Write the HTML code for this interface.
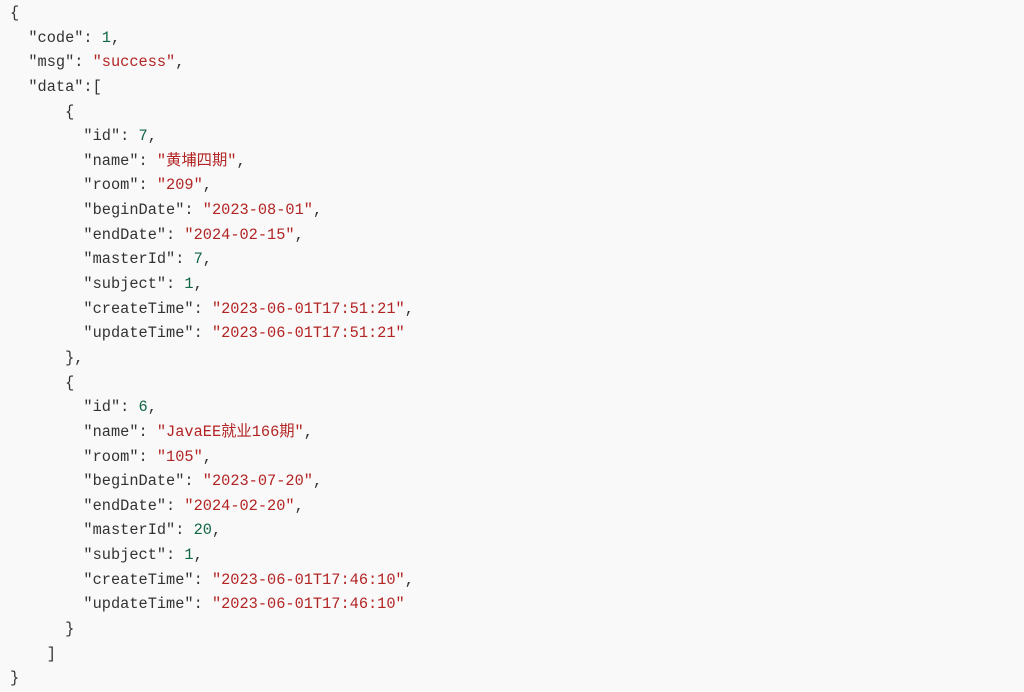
<!DOCTYPE html>
<html><head><meta charset="utf-8"><style>
html,body{margin:0;padding:0;background:#f9f9f9;}
body{width:1024px;height:692px;overflow:hidden;}
pre{margin:0;padding:1px 0 0 10px;font-family:"Liberation Mono","Noto Sans CJK SC",monospace;font-size:15.3px;line-height:24.64px;color:#333;}
.s{color:#b32424;}
.n{color:#116644;}
</style></head><body><pre>{
  "code": <span class="n">1</span>,
  "msg": <span class="s">"success"</span>,
  "data":[
      {
        "id": <span class="n">7</span>,
        "name": <span class="s">"黄埔四期"</span>,
        "room": <span class="s">"209"</span>,
        "beginDate": <span class="s">"2023-08-01"</span>,
        "endDate": <span class="s">"2024-02-15"</span>,
        "masterId": <span class="n">7</span>,
        "subject": <span class="n">1</span>,
        "createTime": <span class="s">"2023-06-01T17:51:21"</span>,
        "updateTime": <span class="s">"2023-06-01T17:51:21"</span>
      },
      {
        "id": <span class="n">6</span>,
        "name": <span class="s">"JavaEE就业166期"</span>,
        "room": <span class="s">"105"</span>,
        "beginDate": <span class="s">"2023-07-20"</span>,
        "endDate": <span class="s">"2024-02-20"</span>,
        "masterId": <span class="n">20</span>,
        "subject": <span class="n">1</span>,
        "createTime": <span class="s">"2023-06-01T17:46:10"</span>,
        "updateTime": <span class="s">"2023-06-01T17:46:10"</span>
      }
    ]
}</pre></body></html>
